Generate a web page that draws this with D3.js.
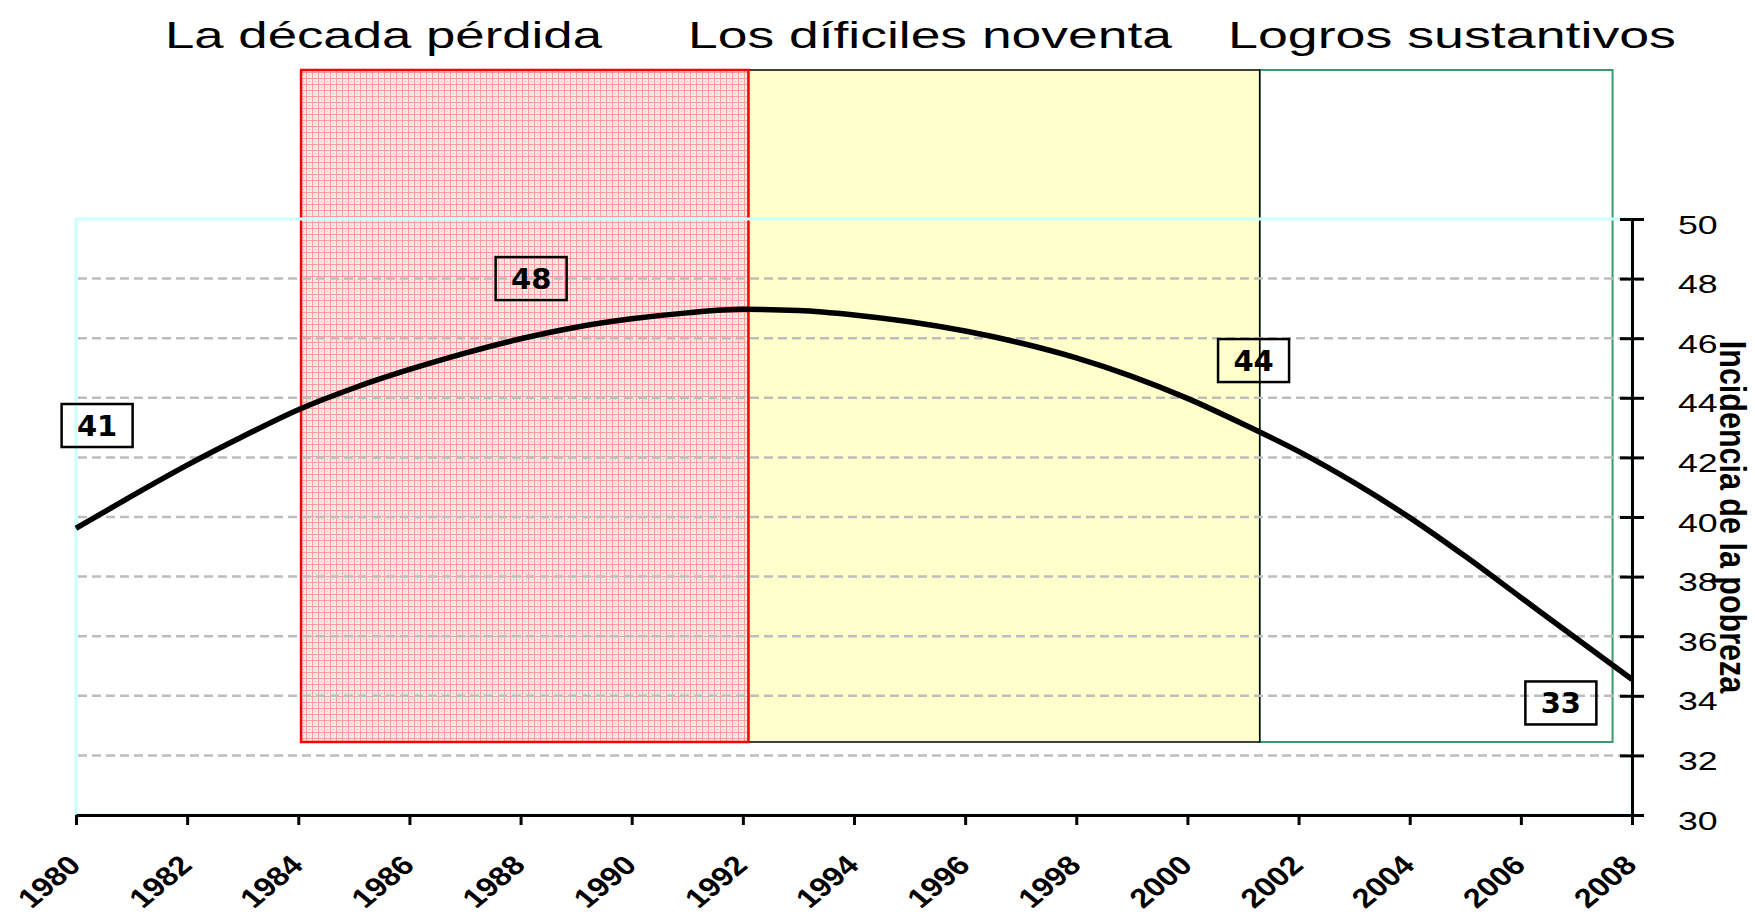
<!DOCTYPE html>
<html>
<head>
<meta charset="utf-8">
<script src="https://cdn.jsdelivr.net/npm/d3@7"></script>
<style>
  body { margin: 0; background: #fff; }
  svg { display: block; }
</style>
</head>
<body>
<script>
// data
const years = [1980, 1981, 1982, 1983, 1984, 1985, 1986, 1987, 1988, 1989,
               1990, 1991, 1992, 1993, 1994, 1995, 1996, 1997, 1998, 1999,
               2000, 2001, 2002, 2003, 2004, 2005, 2006, 2007, 2008];
const poverty = [39.62, 40.7, 41.74, 42.7, 43.6, 44.33, 44.95, 45.5, 45.98, 46.37,
                 46.65, 46.85, 46.97, 46.93, 46.78, 46.55, 46.24, 45.84, 45.34, 44.72,
                 43.98, 43.12, 42.2, 41.15, 39.98, 38.68, 37.3, 35.92, 34.55];

const periodNames = ["La década pérdida", "Los díficiles noventa", "Logros sustantivos"];
const periodStart = [1984.05, 1992.1, 2001.3];
const periodEnd = [1992.1, 2001.3, 2007.65];

const callouts = ["41", "48", "44", "33"];

const xTicks = [1980, 1982, 1984, 1986, 1988, 1990, 1992, 1994, 1996, 1998, 2000, 2002, 2004, 2006, 2008];
const yTicks = [30, 32, 34, 36, 38, 40, 42, 44, 46, 48, 50];
const yLabel = "Incidencia de la pobreza";

// layout
const W = 1755, H = 916;
const plot = { left: 76, right: 1632, top: 219, bottom: 815 };
const boxRange = [32.45, 55];              // vertical extent of the period boxes, in axis units
const titleX = [165, 688, 1228], titleW = [437, 484, 448];
const calloutAt = [[1980.38, 43.07], [1988.19, 48.0], [2001.19, 45.25], [2006.72, 33.76]];
const font = "'Liberation Sans', Arial, sans-serif";

const x = d3.scaleLinear().domain([1980, 2008]).range([plot.left, plot.right]);
const y = d3.scaleLinear().domain([30, 50]).range([plot.bottom, plot.top]);

const svg = d3.select("body").append("svg")
    .attr("width", W)
    .attr("height", H)
    .style("background", "#fff");

// pink mesh fill for the first period
const defs = svg.append("defs");
const pat = defs.append("pattern")
    .attr("id", "mesh")
    .attr("patternUnits", "userSpaceOnUse")
    .attr("width", 6).attr("height", 6);
pat.append("rect").attr("width", 6).attr("height", 6).attr("fill", "#ffe6e6");
pat.append("rect").attr("width", 6).attr("height", 1).attr("fill", "#ff9c9c");
pat.append("rect").attr("width", 1).attr("height", 6).attr("fill", "#ff9c9c");
pat.append("rect").attr("x", 3).attr("y", 3).attr("width", 1).attr("height", 1).attr("fill", "#ffb4b4");

const boxFill = ["url(#mesh)", "#ffffcc", "none"];
const boxStroke = ["#ff0000", "#000000", "#3a9a6a"];
const boxWidth = [2.5, 1.5, 2];

// draw green first, red last so shared edges look like the original
const boxG = svg.append("g");
[2, 1, 0].forEach(i => {
    boxG.append("rect")
        .attr("x", x(periodStart[i]))
        .attr("y", y(boxRange[1]))
        .attr("width", x(periodEnd[i]) - x(periodStart[i]))
        .attr("height", y(boxRange[0]) - y(boxRange[1]))
        .attr("fill", boxFill[i])
        .attr("stroke", boxStroke[i])
        .attr("stroke-width", boxWidth[i]);
});

// period titles
svg.append("g").selectAll("text")
    .data(periodNames)
    .join("text")
    .attr("x", (d, i) => titleX[i])
    .attr("y", 48)
    .attr("textLength", (d, i) => titleW[i])
    .attr("lengthAdjust", "spacingAndGlyphs")
    .style("font-family", font)
    .style("font-size", "36px")
    .attr("fill", "#000")
    .text(d => d);

// dashed gridlines
svg.append("g").selectAll("line")
    .data(yTicks.filter(v => v > 30 && v < 50))
    .join("line")
    .attr("x1", plot.left + 2)
    .attr("x2", plot.right)
    .attr("y1", d => y(d))
    .attr("y2", d => y(d))
    .attr("stroke", "#bdbdbd")
    .attr("stroke-width", 2.5)
    .attr("stroke-dasharray", "9,5");

// light cyan plot area border (top and left show)
svg.append("rect")
    .attr("x", plot.left)
    .attr("y", plot.top)
    .attr("width", plot.right - plot.left)
    .attr("height", plot.bottom - plot.top)
    .attr("fill", "none")
    .attr("stroke", "#ccffff")
    .attr("stroke-width", 3);

// poverty curve
const series = years.map((yr, i) => ({ year: yr, v: poverty[i] }));
svg.append("path")
    .datum(series)
    .attr("fill", "none")
    .attr("stroke", "#000")
    .attr("stroke-width", 5.5)
    .attr("stroke-linejoin", "round")
    .attr("d", d3.line().x(d => x(d.year)).y(d => y(d.v)).curve(d3.curveMonotoneX));

// callout boxes
const cg = svg.append("g").selectAll("g")
    .data(callouts)
    .join("g")
    .attr("transform", (d, i) => "translate(" + x(calloutAt[i][0]) + "," + y(calloutAt[i][1]) + ")");
cg.append("rect")
    .attr("x", -35.5).attr("y", -21.5)
    .attr("width", 71).attr("height", 43)
    .attr("fill", "none")
    .attr("stroke", "#000")
    .attr("stroke-width", 2.5);
cg.append("text")
    .attr("y", 10.5)
    .attr("text-anchor", "middle")
    .style("font-family", "'DejaVu Sans', Verdana, sans-serif")
    .style("font-weight", "bold")
    .style("font-size", "29px")
    .text(d => d);

// x axis
const xAxis = svg.append("g")
    .attr("transform", "translate(0," + plot.bottom + ")")
    .call(d3.axisBottom(x).tickValues(xTicks).tickSize(10).tickSizeOuter(0).tickFormat(d3.format("d")));
xAxis.select(".domain").attr("stroke", "#000").attr("stroke-width", 3);
xAxis.selectAll(".tick line").attr("stroke", "#000").attr("stroke-width", 3);
xAxis.selectAll(".tick text")
    .attr("y", null).attr("dy", null)
    .attr("text-anchor", "end")
    .attr("transform", "translate(6,52) scale(1.2,1) rotate(-45)")
    .style("font-family", font)
    .style("font-weight", "bold")
    .style("font-size", "27px")
    .attr("fill", "#000");

// y axis on the right
const yAxis = svg.append("g")
    .attr("transform", "translate(" + plot.right + ",0)")
    .call(d3.axisRight(y).tickValues(yTicks).tickSize(12).tickSizeOuter(0).tickFormat(d3.format("d")));
yAxis.select(".domain").attr("stroke", "#000").attr("stroke-width", 3);
yAxis.selectAll(".tick line").attr("x1", -12).attr("stroke", "#000").attr("stroke-width", 3);
yAxis.selectAll(".tick text")
    .attr("x", null).attr("dy", null)
    .attr("text-anchor", "start")
    .attr("transform", "translate(46,14) scale(1.4,1)")
    .style("font-family", font)
    .style("font-size", "25.5px")
    .attr("fill", "#000");

// y axis title
svg.append("text")
    .attr("transform", "translate(1720,517) scale(1.2,1) rotate(90)")
    .attr("text-anchor", "middle")
    .style("font-family", font)
    .style("font-weight", "bold")
    .style("font-size", "30.5px")
    .text(yLabel);
</script>
</body>
</html>
